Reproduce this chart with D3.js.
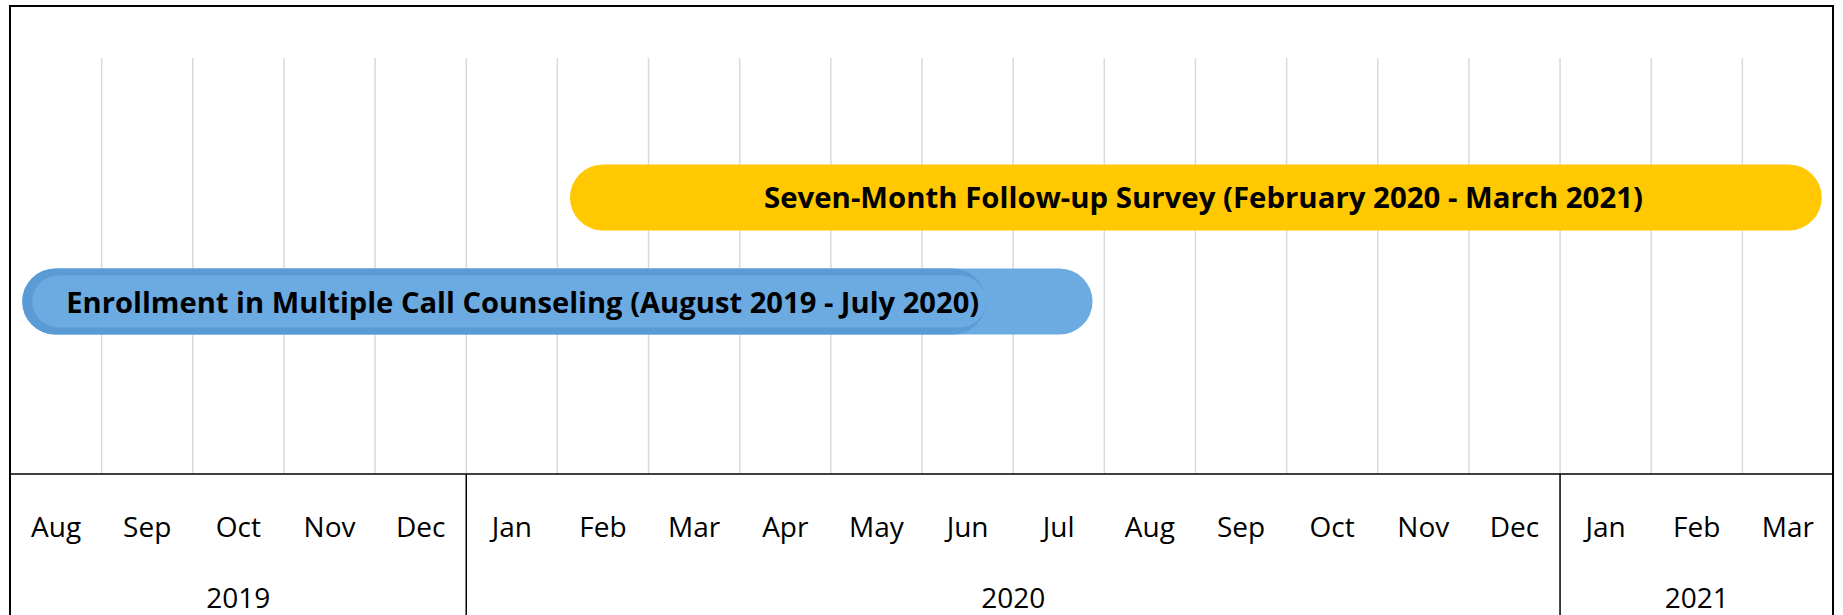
<!DOCTYPE html>
<html>
<head>
<meta charset="utf-8">
<script src="https://cdn.jsdelivr.net/npm/d3@7"></script>
<style>
  body { margin: 0; background: #fff; }
  svg { display: block; }
</style>
</head>
<body>
<script>
const width = 1843;
const height = 615;

// month columns on the axis, Aug 2019 .. Mar 2021
const months = ["Aug", "Sep", "Oct", "Nov", "Dec",
    "Jan", "Feb", "Mar", "Apr", "May", "Jun", "Jul", "Aug", "Sep", "Oct", "Nov", "Dec",
    "Jan", "Feb", "Mar"];
const years = ["2019", "2020", "2021"];
const yearMonthCounts = [5, 12, 3];

// the two study phases (start / end dates)
const phaseRows = ["survey", "enrollment"];
const phaseLabels = [
    "Seven-Month Follow-up Survey (February 2020 - March 2021)",
    "Enrollment in Multiple Call Counseling (August 2019 - July 2020)"
];
const phaseStarts = ["2020-02-05", "2019-08-05"];
const phaseEnds = ["2021-03-28", "2020-07-28"];
const enrollmentShadeEnd = "2020-06-22";

const margin = {top: 6, left: 10.5, right: 9.5, axis: 474};

// fractional month position, 0 = start of Aug 2019
function monthPos(str) {
    const d = new Date(str + "T00:00:00");
    const days = new Date(d.getFullYear(), d.getMonth() + 1, 0).getDate();
    return (d.getFullYear() - 2019) * 12 + d.getMonth() - 7 + (d.getDate() - 1) / days;
}

const x = d3.scaleLinear()
    .domain([0, months.length])
    .range([margin.left, width - margin.right]);

const y = d3.scalePoint()
    .domain(phaseRows)
    .range([197.5, 301.5]);

const barH = 66;

const svg = d3.select('body').append('svg')
    .attr('width', width)
    .attr('height', height);

// month gridlines
svg.append('g')
    .selectAll('line')
    .data(d3.range(1, months.length))
    .enter().append('line')
    .attr('x1', d => x(d)).attr('x2', d => x(d))
    .attr('y1', 58).attr('y2', margin.axis)
    .attr('stroke', '#d9d9d9')
    .attr('stroke-width', 1.5);

// bars
function bar(g, x0, x1, yc, h, fill) {
    g.append('rect')
        .attr('x', x0)
        .attr('y', yc - h / 2)
        .attr('width', x1 - x0)
        .attr('height', h)
        .attr('rx', h / 2)
        .attr('ry', h / 2)
        .attr('fill', fill);
}

const bars = svg.append('g');
// survey
bar(bars, x(monthPos(phaseStarts[0])), x(monthPos(phaseEnds[0])), y("survey"), barH, '#ffc800');
// enrollment: light bar, darker shaded part, light inset on top
const ex0 = x(monthPos(phaseStarts[1]));
bar(bars, ex0, x(monthPos(phaseEnds[1])), y("enrollment"), barH, '#6caae2');
bar(bars, ex0, x(monthPos(enrollmentShadeEnd)), y("enrollment"), barH, '#5b9bd5');
bars.append('rect')
    .attr('x', ex0 + 10)
    .attr('y', y("enrollment") - barH / 2 + 7)
    .attr('width', x(monthPos(enrollmentShadeEnd)) - ex0 - 10)
    .attr('height', barH - 14)
    .attr('rx', (barH - 14) / 2)
    .attr('fill', '#6caae2');

// bar labels
svg.append('text')
    .attr('x', x(monthPos(phaseStarts[0])) + 194)
    .attr('y', y("survey") + 10)
    .attr('font-family', 'Open Sans')
    .attr('font-weight', 'bold')
    .attr('font-size', 28.5)
    .attr('textLength', 879)
    .attr('lengthAdjust', 'spacingAndGlyphs')
    .text(phaseLabels[0]);

svg.append('text')
    .attr('x', ex0 + 44)
    .attr('y', y("enrollment") + 11.5)
    .attr('font-family', 'Open Sans')
    .attr('font-weight', 'bold')
    .attr('font-size', 28.5)
    .attr('textLength', 913)
    .attr('lengthAdjust', 'spacingAndGlyphs')
    .text(phaseLabels[1]);

// axis table
svg.append('line')
    .attr('x1', x(0)).attr('x2', x(months.length))
    .attr('y1', margin.axis).attr('y2', margin.axis)
    .attr('stroke', '#000')
    .attr('stroke-width', 1.5);

svg.append('g')
    .selectAll('text')
    .data(months)
    .enter().append('text')
    .attr('x', (d, i) => x(i + 0.5))
    .attr('y', 537)
    .attr('text-anchor', 'middle')
    .attr('font-family', 'Open Sans')
    .attr('font-size', 28)
    .text(d => d);

const yearStarts = d3.cumsum([0].concat(yearMonthCounts));

svg.append('g')
    .selectAll('line')
    .data(yearStarts.slice(1, -1))
    .enter().append('line')
    .attr('x1', d => x(d)).attr('x2', d => x(d))
    .attr('y1', margin.axis).attr('y2', height)
    .attr('stroke', '#000')
    .attr('stroke-width', 1.5);

svg.append('g')
    .selectAll('text')
    .data(years)
    .enter().append('text')
    .attr('x', (d, i) => x(yearStarts[i] + yearMonthCounts[i] / 2))
    .attr('y', 608)
    .attr('text-anchor', 'middle')
    .attr('font-family', 'Open Sans')
    .attr('font-size', 28)
    .text(d => d);

// outer frame
svg.append('rect')
    .attr('x', x(0) - 0.5)
    .attr('y', margin.top)
    .attr('width', x(months.length) - x(0))
    .attr('height', height)
    .attr('fill', 'none')
    .attr('stroke', '#000')
    .attr('stroke-width', 2);
</script>
</body>
</html>
